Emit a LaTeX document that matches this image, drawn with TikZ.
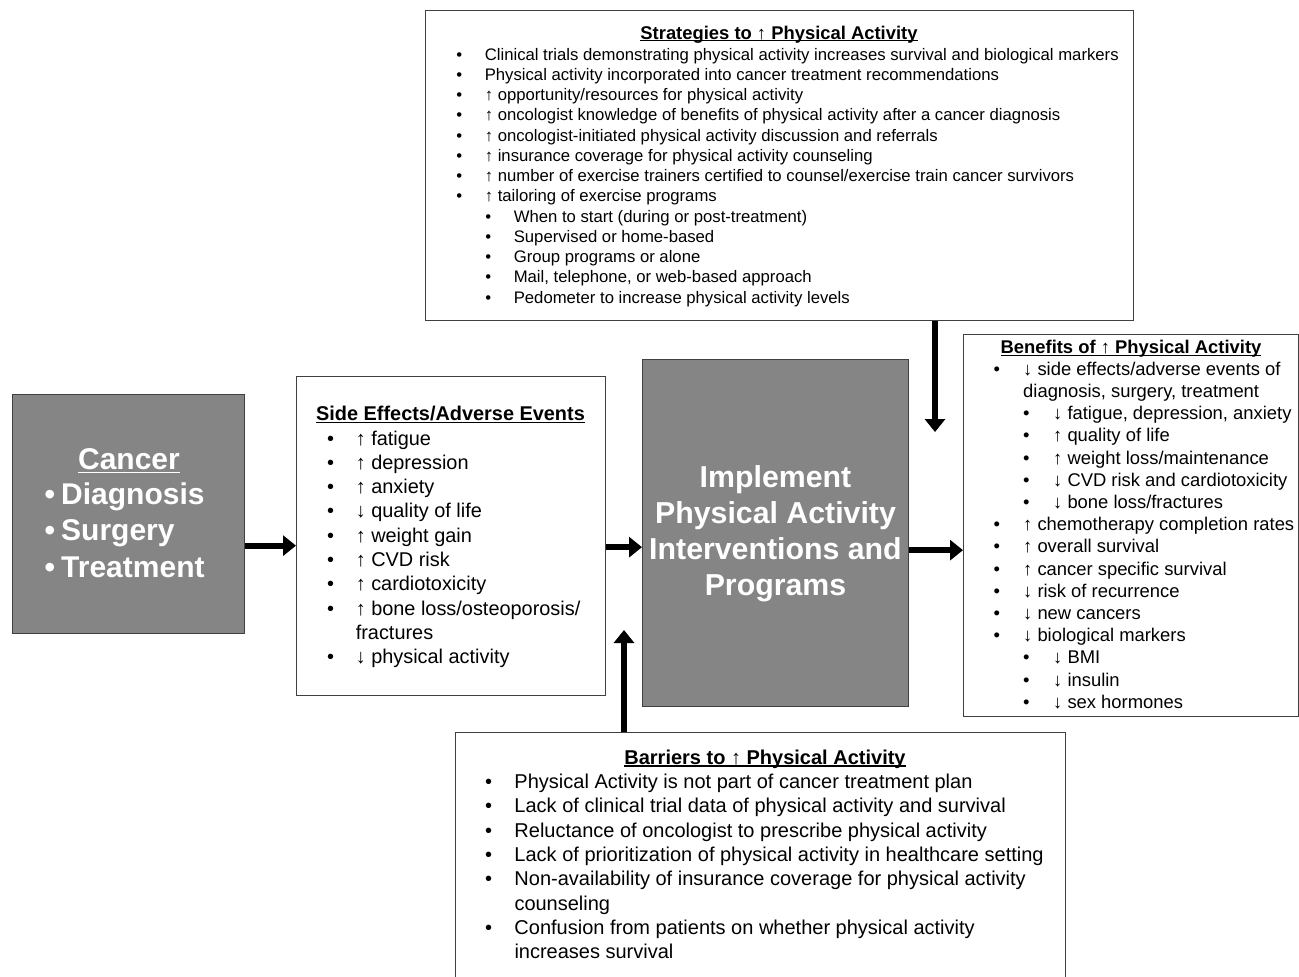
\documentclass[tikz,border=0pt]{standalone}
\usepackage{fontspec}
\setmainfont{Liberation Sans}
\usetikzlibrary{arrows.meta}

\definecolor{boxgray}{HTML}{858585}
\definecolor{edgegray}{HTML}{404040}

% bullet in a box of given width, with optional indent
\newcommand\bul[2][0pt]{\hspace*{#1}\makebox[#2][l]{\textbullet}}
% underlined heading
\newcommand\headul[2][2.5pt]{\sbox0{#2}\rlap{\rule[-#1]{\wd0}{1.2pt}}\usebox0}

\tikzset{
	whitebox/.style={draw=edgegray, line width=1.3pt, fill=white, inner sep=0pt, anchor=north west},
	graybox/.style={draw=edgegray, line width=1.3pt, fill=boxgray, inner sep=0pt, anchor=north west},
	listtext/.style={inner sep=0pt, anchor=north west, align=left},
	headtext/.style={inner sep=0pt, anchor=base},
	fatarrow/.style={line width=6pt, -{Triangle[width=20pt, length=13pt]}},
}

\begin{document}
\begin{tikzpicture}[x=1pt, y=-1pt]
	\clip (0,0) rectangle (1299,977);

	% boxes
	\node[whitebox, minimum width=708pt, minimum height=310pt] (strat) at (425,10) {};
	\node[graybox, minimum width=232pt, minimum height=239pt] (cancer) at (12,394) {};
	\node[whitebox, minimum width=309pt, minimum height=319pt] (side) at (296,376) {};
	\node[graybox, minimum width=266pt, minimum height=347pt] (impl) at (642,359) {};
	\node[whitebox, minimum width=335pt, minimum height=382pt] (benef) at (963,334) {};
	\node[whitebox, minimum width=610pt, minimum height=270pt] (barr) at (455,732) {};

	% strategies
	\node[headtext, font=\fontsize{18.4}{20.25}\selectfont\bfseries] (strathead) at (779,39.3)
		{\headul[2pt]{Strategies to ↑ Physical Activity}};
	\node[listtext, font=\fontsize{16.7}{20.25}\selectfont] (stratlist) at (456.1,45.8) {%
		\strut\bul{28.5pt}Clinical trials demonstrating physical activity increases survival and biological markers\\
		\bul{28.5pt}Physical activity incorporated into cancer treatment recommendations\\
		\bul{28.5pt}↑ opportunity/resources for physical activity\\
		\bul{28.5pt}↑ oncologist knowledge of benefits of physical activity after a cancer diagnosis\\
		\bul{28.5pt}↑ oncologist-initiated physical activity discussion and referrals\\
		\bul{28.5pt}↑ insurance coverage for physical activity counseling\\
		\bul{28.5pt}↑ number of exercise trainers certified to counsel/exercise train cancer survivors\\
		\bul{28.5pt}↑ tailoring of exercise programs\\
		\bul[29pt]{28.5pt}When to start (during or post-treatment)\\
		\bul[29pt]{28.5pt}Supervised or home-based\\
		\bul[29pt]{28.5pt}Group programs or alone\\
		\bul[29pt]{28.5pt}Mail, telephone, or web-based approach\\
		\bul[29pt]{28.5pt}Pedometer to increase physical activity levels};

	% cancer
	\node[headtext, text=white, font=\fontsize{30}{36.5}\selectfont\bfseries] (cancerhead) at (129,469.3)
		{\headul[4pt]{Cancer}};
	\node[listtext, text=white, font=\fontsize{30}{36.5}\selectfont\bfseries] (cancerlist) at (44.5,478.45) {%
		\strut\bul{16.5pt}Diagnosis\\
		\bul{16.5pt}Surgery\\
		\bul{16.5pt}Treatment};

	% side effects
	\node[headtext, font=\fontsize{19.9}{24.26}\selectfont\bfseries] (sidehead) at (450.5,420.7)
		{\headul{Side Effects/Adverse Events}};
	\node[listtext, font=\fontsize{19.9}{24.26}\selectfont] (sidelist) at (326.9,428) {%
		\strut\bul{28.7pt}↑ fatigue\\
		\bul{28.7pt}↑ depression\\
		\bul{28.7pt}↑ anxiety\\
		\bul{28.7pt}↓ quality of life\\
		\bul{28.7pt}↑ weight gain\\
		\bul{28.7pt}↑ CVD risk\\
		\bul{28.7pt}↑ cardiotoxicity\\
		\bul{28.7pt}↑ bone loss/osteoporosis/\\
		\hspace*{28.7pt}fractures\\
		\bul{28.7pt}↓ physical activity};

	% implement
	\node[inner sep=0pt, anchor=north, align=center, text=white,
		font=\fontsize{30.3}{35.77}\selectfont\bfseries] (impltext) at (775.5,462.7) {%
		\strut Implement\\
		Physical Activity\\
		Interventions and\\
		Programs};

	% benefits
	\node[headtext, font=\fontsize{18.4}{22.2}\selectfont\bfseries] (benefhead) at (1131,353.3)
		{\headul{Benefits of ↑ Physical Activity}};
	\node[listtext, font=\fontsize{18.4}{22.2}\selectfont] (beneflist) at (993.5,359.5) {%
		\strut\bul{29.5pt}↓ side effects/adverse events of\\
		\hspace*{29.5pt}diagnosis, surgery, treatment\\
		\bul[29.5pt]{30pt}↓ fatigue, depression, anxiety\\
		\bul[29.5pt]{30pt}↑ quality of life\\
		\bul[29.5pt]{30pt}↑ weight loss/maintenance\\
		\bul[29.5pt]{30pt}↓ CVD risk and cardiotoxicity\\
		\bul[29.5pt]{30pt}↓ bone loss/fractures\\
		\bul{29.5pt}↑ chemotherapy completion rates\\
		\bul{29.5pt}↑ overall survival\\
		\bul{29.5pt}↑ cancer specific survival\\
		\bul{29.5pt}↓ risk of recurrence\\
		\bul{29.5pt}↓ new cancers\\
		\bul{29.5pt}↓ biological markers\\
		\bul[29.5pt]{30pt}↓ BMI\\
		\bul[29.5pt]{30pt}↓ insulin\\
		\bul[29.5pt]{30pt}↓ sex hormones};

	% barriers
	\node[headtext, font=\fontsize{20}{24.3}\selectfont\bfseries] (barrhead) at (765,764)
		{\headul{Barriers to ↑ Physical Activity}};
	\node[listtext, font=\fontsize{20}{24.3}\selectfont] (barrlist) at (484.8,771.3) {%
		\strut\bul{29.5pt}Physical Activity is not part of cancer treatment plan\\
		\bul{29.5pt}Lack of clinical trial data of physical activity and survival\\
		\bul{29.5pt}Reluctance of oncologist to prescribe physical activity\\
		\bul{29.5pt}Lack of prioritization of physical activity in healthcare setting\\
		\bul{29.5pt}Non-availability of insurance coverage for physical activity\\
		\hspace*{29.5pt}counseling\\
		\bul{29.5pt}Confusion from patients on whether physical activity\\
		\hspace*{29.5pt}increases survival};

	% arrows
	\coordinate (cancerout) at ([yshift=-31.5pt]cancer.east);
	\coordinate (sideout) at ([yshift=-11pt]side.east);
	\coordinate (implout) at ([yshift=-17pt]impl.east);
	\coordinate (stratend) at (935,432);
	\coordinate (barrend) at (624,630);
	\draw[fatarrow] (cancerout) -- (cancerout -| side.west);
	\draw[fatarrow] (sideout) -- (sideout -| impl.west);
	\draw[fatarrow] (implout) -- (implout -| benef.west);
	\draw[fatarrow] (strat.south -| stratend) -- (stratend);
	\draw[fatarrow] (barr.north -| barrend) -- (barrend);
\end{tikzpicture}
\end{document}
